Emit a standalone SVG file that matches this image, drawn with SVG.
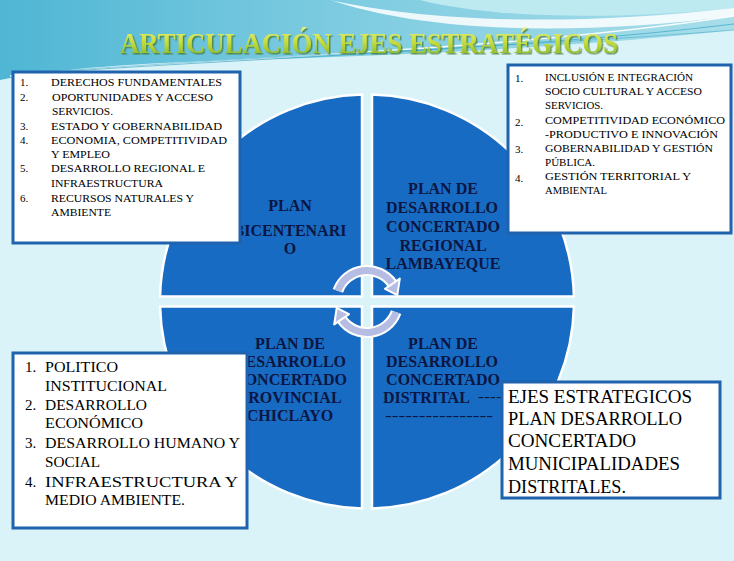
<svg xmlns="http://www.w3.org/2000/svg" width="734" height="561" viewBox="0 0 734 561">
<defs>
<linearGradient id="sky" x1="0" y1="0" x2="1" y2="0">
<stop offset="0" stop-color="#4fb6d4"/>
<stop offset="0.45" stop-color="#7ccbe0"/>
<stop offset="1" stop-color="#a8deea"/>
</linearGradient>
<linearGradient id="titleg" x1="0" y1="0" x2="0" y2="1">
<stop offset="0" stop-color="#eef27a"/>
<stop offset="0.5" stop-color="#c4dc3c"/>
<stop offset="1" stop-color="#7cb02a"/>
</linearGradient>
<filter id="shadow" x="-5%" y="-20%" width="110%" height="150%">
<feDropShadow dx="1.5" dy="1.5" stdDeviation="0.6" flood-color="#3d6e1a" flood-opacity="0.7"/>
</filter>
<style>
.quad{fill:#186bc2;stroke:#ffffff;stroke-width:2.5}
.box{fill:#ffffff;stroke:#1f62ad;stroke-width:3}
.qt{font-family:"Liberation Serif",serif;font-weight:bold;font-size:16px;fill:#0b1642;text-anchor:middle}
.sm{font-family:"Liberation Serif",serif;font-size:11px;fill:#000000}
.md{font-family:"Liberation Serif",serif;font-size:15px;fill:#000000}
.lg{font-family:"Liberation Serif",serif;font-size:18px;fill:#000000}
.arcw{fill:none;stroke:#ffffff;stroke-width:11}
.arc{fill:none;stroke:#b6bde2;stroke-width:7}
.head{fill:#b6bde2;stroke:#ffffff;stroke-width:2;stroke-linejoin:round}
</style>
</defs>
<rect x="0" y="0" width="734" height="561" fill="#daf3f8"/>
<path d="M0,0 H734 V30 C600,45 420,55 240,60 C140,63 60,68 0,80 Z" fill="url(#sky)"/>
<path d="M420,0 H734 V8 C600,22 480,16 420,0 Z" fill="#bde9f1"/>
<path d="M330,0 C420,20 560,28 734,8 L734,16 C560,38 420,30 330,0 Z" fill="#ffffff" opacity="0.85"/>
<path d="M10,76 C200,58 500,52 734,16" fill="none" stroke="#ffffff" stroke-width="1.5" opacity="0.9"/>
<path d="M30,74 C240,58 520,50 734,24" fill="none" stroke="#3aa6c6" stroke-width="1" opacity="0.7"/>
<path d="M60,71 C260,56 540,46 734,30" fill="none" stroke="#3aa6c6" stroke-width="1" opacity="0.5"/>

<g id="title">
<text x="120" y="53" font-family="Liberation Serif, serif" font-weight="bold" font-size="30" textLength="498" lengthAdjust="spacingAndGlyphs" fill="url(#titleg)" filter="url(#shadow)">ARTICULACIÓN EJES  ESTRATÉGICOS</text>
</g>

<g id="quadrant-tl">
<path class="quad" d="M362,296.5 L160.06,296.5 A207,207 0 0 1 362,94.56 Z"/>
<text class="qt" x="290" y="211">PLAN</text>
<text class="qt" x="290" y="236">BICENTENARI</text>
<text class="qt" x="290" y="254">O</text>
</g>
<g id="quadrant-tr">
<path class="quad" d="M372,296.5 L372,94.56 A207,207 0 0 1 573.94,296.5 Z"/>
<text class="qt" x="443" y="194">PLAN  DE</text>
<text class="qt" x="442" y="213">DESARROLLO</text>
<text class="qt" x="443" y="232">CONCERTADO</text>
<text class="qt" x="443" y="251">REGIONAL</text>
<text class="qt" x="443" y="269">LAMBAYEQUE</text>
</g>
<g id="quadrant-br">
<path class="quad" d="M372,306.5 L573.94,306.5 A207,207 0 0 1 372,508.44 Z"/>
<text class="qt" x="443" y="349">PLAN  DE</text>
<text class="qt" x="442" y="367">DESARROLLO</text>
<text class="qt" x="443" y="385">CONCERTADO</text>
<text class="qt" x="383" y="403" style="text-anchor:start">DISTRITAL</text>
<text x="478" y="401" font-family="Liberation Serif, serif" font-size="14" fill="#0b1642" textLength="30" lengthAdjust="spacingAndGlyphs">-----</text>
<text x="385" y="420" font-family="Liberation Serif, serif" font-size="14" fill="#0b1642" textLength="108" lengthAdjust="spacingAndGlyphs">----------------</text>
</g>
<g id="quadrant-bl">
<path class="quad" d="M362,306.5 L362,508.44 A207,207 0 0 1 160.06,306.5 Z"/>
<text class="qt" x="290" y="349">PLAN   DE</text>
<text class="qt" x="290" y="367">DESARROLLO</text>
<text class="qt" x="290" y="385">CONCERTADO</text>
<text class="qt" x="290" y="403">PROVINCIAL</text>
<text class="qt" x="290" y="421">CHICLAYO</text>
</g>

<g id="connectors">
<path class="arcw" d="M337.87,290.9 A31,31 0 0 1 392.39,283.72"/>
<path class="arcw" d="M396.13,312.1 A31,31 0 0 1 341.61,319.28"/>
<path class="arc" d="M337.87,290.9 A31,31 0 0 1 392.39,283.72"/>
<path class="arc" d="M396.13,312.1 A31,31 0 0 1 341.61,319.28"/>
<polygon class="head" points="385,288.9 399.8,278.6 397.3,295.1"/>
<polygon class="head" points="349,314.1 334.2,324.4 336.7,307.9"/>
</g>

<g id="box-top-left">
<rect class="box" x="13" y="72" width="227" height="171"/>
<g class="sm">
<text x="20" y="86">1.</text>
<text x="20" y="101">2.</text>
<text x="20" y="130">3.</text>
<text x="20" y="144">4.</text>
<text x="20" y="172">5.</text>
<text x="20" y="202">6.</text>
<text x="51" y="86" textLength="171" lengthAdjust="spacingAndGlyphs">DERECHOS FUNDAMENTALES</text>
<text x="52" y="101" textLength="161" lengthAdjust="spacingAndGlyphs">OPORTUNIDADES Y ACCESO</text>
<text x="52" y="115" textLength="61" lengthAdjust="spacingAndGlyphs">SERVICIOS.</text>
<text x="51" y="130" textLength="171" lengthAdjust="spacingAndGlyphs">ESTADO  Y  GOBERNABILIDAD</text>
<text x="51" y="144" textLength="176" lengthAdjust="spacingAndGlyphs">ECONOMIA, COMPETITIVIDAD</text>
<text x="51" y="158" textLength="59" lengthAdjust="spacingAndGlyphs">Y EMPLEO</text>
<text x="51" y="172" textLength="154" lengthAdjust="spacingAndGlyphs">DESARROLLO  REGIONAL E</text>
<text x="51" y="187" textLength="112" lengthAdjust="spacingAndGlyphs">INFRAESTRUCTURA</text>
<text x="51" y="202" textLength="143" lengthAdjust="spacingAndGlyphs">RECURSOS NATURALES Y</text>
<text x="51" y="216" textLength="60" lengthAdjust="spacingAndGlyphs">AMBIENTE</text>
</g>
</g>

<g id="box-top-right">
<rect class="box" x="508" y="65" width="223" height="168"/>
<g class="sm">
<text x="515" y="82">1.</text>
<text x="515" y="126">2.</text>
<text x="515" y="153">3.</text>
<text x="515" y="182">4.</text>
<text x="545" y="81" textLength="148" lengthAdjust="spacingAndGlyphs">INCLUSIÓN E INTEGRACIÓN</text>
<text x="545" y="95" textLength="157" lengthAdjust="spacingAndGlyphs">SOCIO CULTURAL Y ACCESO</text>
<text x="545" y="109" textLength="58" lengthAdjust="spacingAndGlyphs">SERVICIOS.</text>
<text x="545" y="124" textLength="180" lengthAdjust="spacingAndGlyphs">COMPETITIVIDAD ECONÓMICO</text>
<text x="545" y="138" textLength="173" lengthAdjust="spacingAndGlyphs">-PRODUCTIVO E INNOVACIÓN</text>
<text x="545" y="152" textLength="168" lengthAdjust="spacingAndGlyphs">GOBERNABILIDAD Y GESTIÓN</text>
<text x="545" y="166" textLength="50" lengthAdjust="spacingAndGlyphs">PÚBLICA.</text>
<text x="545" y="180" textLength="146" lengthAdjust="spacingAndGlyphs">GESTIÓN  TERRITORIAL  Y</text>
<text x="545" y="194" textLength="62" lengthAdjust="spacingAndGlyphs">AMBIENTAL</text>
</g>
</g>

<g id="box-bottom-left">
<rect class="box" x="13" y="353" width="234" height="175"/>
<g class="md">
<text x="25" y="372">1.</text>
<text x="25" y="410">2.</text>
<text x="25" y="448">3.</text>
<text x="25" y="487">4.</text>
<text x="45" y="372" textLength="73" lengthAdjust="spacingAndGlyphs">POLITICO</text>
<text x="45" y="391" textLength="122" lengthAdjust="spacingAndGlyphs">INSTITUCIONAL</text>
<text x="45" y="410" textLength="102" lengthAdjust="spacingAndGlyphs">DESARROLLO</text>
<text x="45" y="428" textLength="98" lengthAdjust="spacingAndGlyphs">ECONÓMICO</text>
<text x="45" y="448" textLength="195" lengthAdjust="spacingAndGlyphs">DESARROLLO HUMANO Y</text>
<text x="45" y="467" textLength="55" lengthAdjust="spacingAndGlyphs">SOCIAL</text>
<text x="45" y="487" textLength="193" lengthAdjust="spacingAndGlyphs">INFRAESTRUCTURA   Y</text>
<text x="45" y="505" textLength="140" lengthAdjust="spacingAndGlyphs">MEDIO AMBIENTE.</text>
</g>
</g>

<g id="box-bottom-right">
<rect class="box" x="502" y="382" width="218" height="116"/>
<g class="lg">
<text x="508" y="402.5" textLength="184" lengthAdjust="spacingAndGlyphs">EJES  ESTRATEGICOS</text>
<text x="508" y="424.5" textLength="174" lengthAdjust="spacingAndGlyphs">PLAN DESARROLLO</text>
<text x="508" y="446.5" textLength="128" lengthAdjust="spacingAndGlyphs">CONCERTADO</text>
<text x="508" y="469.5" textLength="172" lengthAdjust="spacingAndGlyphs">MUNICIPALIDADES</text>
<text x="508" y="493" textLength="118" lengthAdjust="spacingAndGlyphs">DISTRITALES.</text>
</g>
</g>
</svg>
